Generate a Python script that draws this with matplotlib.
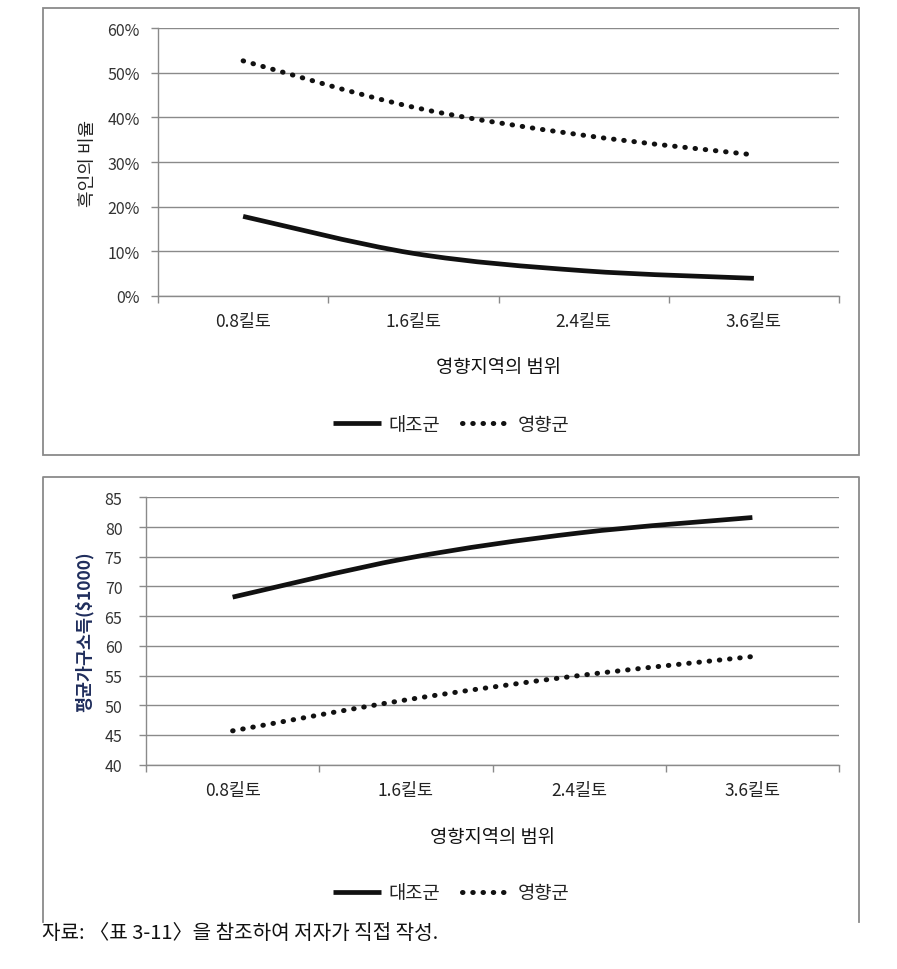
import numpy as np
import matplotlib
matplotlib.use("Agg")
import matplotlib.pyplot as plt
from matplotlib.path import Path
from matplotlib.patches import PathPatch, Rectangle
from matplotlib.lines import Line2D
from matplotlib.ticker import PercentFormatter

plt.rcParams['font.family'] = ['Noto Sans CJK KR', 'DejaVu Sans']

categories = ["0.8킬토", "1.6킬토", "2.4킬토", "3.6킬토"]
series_names = ["대조군", "영향군"]
share_control = [0.178, 0.095, 0.056, 0.039]
share_affected = [0.527, 0.423, 0.360, 0.316]
income_control = [68.2, 74.7, 79.0, 81.6]
income_affected = [45.7, 50.9, 55.0, 58.2]

GRID = '#8a8a8a'
INK = '#111111'
solid_style = dict(color=INK, linewidth=3.4, linestyle='-')
dot_style = dict(color=INK, linewidth=3.6, linestyle=(0, (0.1, 1.95)))


def smooth_path(xs, ys):
    # excel-like smoothed line (catmull-rom as cubic bezier)
    pts = np.column_stack([xs, ys]).astype(float)
    n = len(pts)
    verts = [pts[0]]
    codes = [Path.MOVETO]
    for i in range(n - 1):
        p0 = pts[max(i - 1, 0)]
        p1 = pts[i]
        p2 = pts[i + 1]
        p3 = pts[min(i + 2, n - 1)]
        verts += [p1 + (p2 - p0) / 6, p2 - (p3 - p1) / 6, p2]
        codes += [Path.CURVE4] * 3
    return Path(verts, codes)


def draw_series(ax, values, style, capstyle):
    x = np.arange(len(values))
    patch = PathPatch(smooth_path(x, values), fill=False,
                      edgecolor=style['color'], linewidth=style['linewidth'],
                      linestyle=style['linestyle'], capstyle=capstyle)
    ax.add_patch(patch)


def setup_axes(ax, ylim, yticks, ypad):
    ax.set_xlim(-0.5, len(categories) - 0.5)
    ax.set_ylim(*ylim)
    ax.set_yticks(yticks)
    ax.set_xticks(range(len(categories)))
    ax.set_xticklabels(categories)
    ax.set_xticks(np.arange(-0.5, len(categories), 1), minor=True)
    ax.tick_params(axis='x', which='major', length=0, pad=12, labelsize=12.5, labelcolor='#222222')
    ax.tick_params(axis='x', which='minor', length=5, color=GRID, width=1)
    ax.tick_params(axis='y', length=5, color=GRID, width=1, pad=ypad, labelsize=11.5, labelcolor='#333333')
    ax.grid(axis='y', color=GRID, linewidth=1)
    ax.set_axisbelow(True)
    for s in ['top', 'right']:
        ax.spines[s].set_visible(False)
    for s in ['left', 'bottom']:
        ax.spines[s].set_color(GRID)
        ax.spines[s].set_linewidth(1)
    ax.set_xlabel("영향지역의 범위", fontsize=13.5, color='#111111')
    ax.xaxis.label.set_va('center')


fig = plt.figure(figsize=(8.97, 9.70), dpi=100)
W, H = 897, 970

# top chart: share
ax1 = fig.add_axes([158 / W, 1 - 296.7 / H, 681 / W, 267.4 / H])
setup_axes(ax1, (0, 0.6), np.arange(0, 0.61, 0.1), 8)
ax1.yaxis.set_major_formatter(PercentFormatter(1.0, decimals=0))
draw_series(ax1, share_control, solid_style, 'butt')
draw_series(ax1, share_affected, dot_style, 'round')
ax1.set_ylabel("흑인의 비율", fontsize=13, color='#222222')
ax1.yaxis.set_label_coords(-0.09, 0.5)
ax1.xaxis.set_label_coords(0.5, -0.263)

# bottom chart: income
ax2 = fig.add_axes([146 / W, 1 - 765.7 / H, 693 / W, 267.4 / H])
setup_axes(ax2, (40, 85), np.arange(40, 86, 5), 12)
draw_series(ax2, income_control, solid_style, 'butt')
draw_series(ax2, income_affected, dot_style, 'round')
ax2.set_ylabel("평균가구소득($1000)", fontsize=12.5, color='#1f2d5c', fontweight='bold')
ax2.yaxis.set_label_coords(-0.075, 0.5)
ax2.xaxis.set_label_coords(0.5, -0.27)

handles = [
    Line2D([], [], color=INK, linewidth=solid_style['linewidth'], linestyle='-', solid_capstyle='butt'),
    Line2D([], [], color=INK, linewidth=dot_style['linewidth'], linestyle=dot_style['linestyle'],
           dash_capstyle='round'),
]
for ypix in [425, 894]:
    fig.legend(handles, series_names, loc='center', bbox_to_anchor=(451 / W, 1 - ypix / H),
               ncol=2, frameon=False, fontsize=13.5, handlelength=2.6, handletextpad=0.35,
               columnspacing=1.2, labelcolor='#222222')

# panel frames
fig.add_artist(Rectangle((43 / W, 1 - 456 / H), 816 / W, 447 / H, transform=fig.transFigure,
                         fill=False, edgecolor=GRID, linewidth=1.3))
fig.add_artist(Line2D([43 / W, 43 / W, 859 / W, 859 / W], [1 - 923 / H, 1 - 478 / H, 1 - 478 / H, 1 - 923 / H],
                      transform=fig.transFigure, color=GRID, linewidth=1.3))

fig.text(42 / W, 1 - 934 / H, "자료: 〈표 3-11〉을 참조하여 저자가 직접 작성.", fontsize=14.5,
         ha='left', va='center', color='#111111')

fig.savefig("out.png", dpi=100)
